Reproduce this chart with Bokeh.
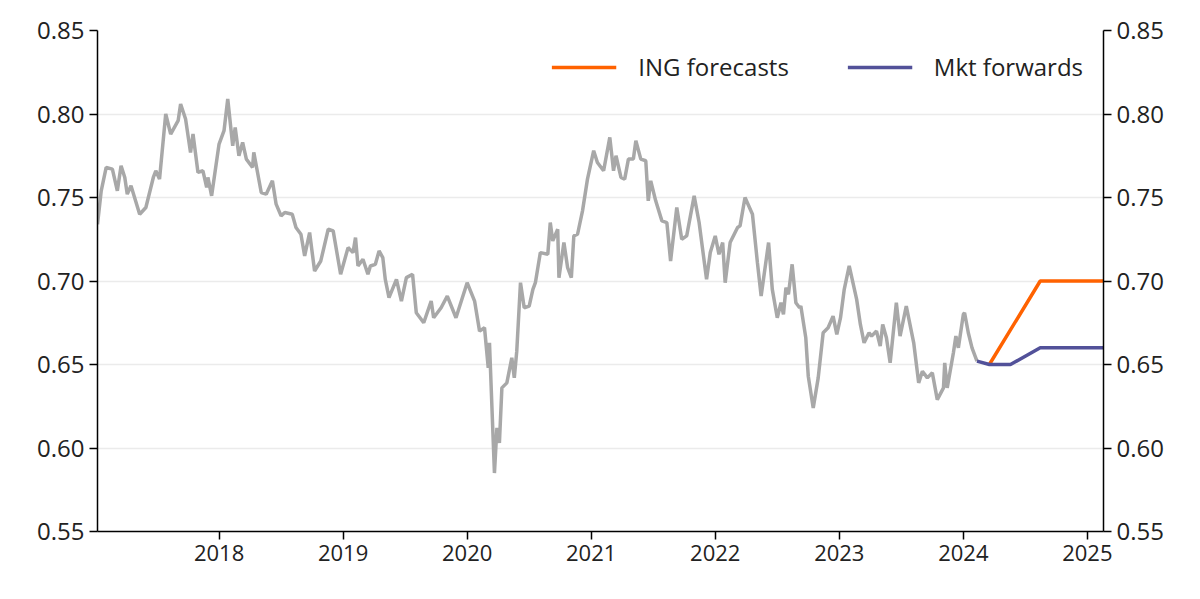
from bokeh.plotting import figure
from bokeh.models import Range1d, FixedTicker, LinearAxis, NumeralTickFormatter, Legend, LegendItem
from bokeh.embed import file_html
from bokeh.resources import INLINE

hist_x = [2017.02,2017.05,2017.09,2017.14,2017.18,2017.21,2017.24,2017.26,2017.29,2017.36,2017.41,2017.47,2017.49,2017.52,2017.57,2017.61,2017.67,2017.69,2017.73,2017.77,2017.79,2017.83,2017.87,2017.90,2017.91,2017.94,
 2018.00,2018.04,2018.07,2018.11,2018.13,2018.16,2018.19,2018.22,2018.27,2018.28,2018.34,2018.38,2018.43,2018.46,2018.50,2018.53,2018.59,2018.62,2018.66,2018.69,2018.73,2018.77,2018.82,2018.88,2018.92,2018.98,
 2019.04,2019.08,2019.10,2019.12,2019.16,2019.20,2019.22,2019.26,2019.29,2019.32,2019.34,2019.37,2019.43,2019.47,2019.51,2019.56,2019.59,2019.65,2019.71,2019.73,2019.79,2019.84,2019.91,
 2020.00,2020.06,2020.10,2020.14,2020.17,2020.18,2020.22,2020.24,2020.26,2020.28,2020.32,2020.36,2020.38,2020.40,2020.43,2020.46,2020.50,2020.53,2020.55,2020.59,2020.65,2020.67,2020.69,2020.73,2020.74,2020.78,2020.81,2020.84,2020.86,2020.89,2020.93,2020.97,
 2021.02,2021.05,2021.10,2021.15,2021.18,2021.20,2021.24,2021.27,2021.30,2021.34,2021.36,2021.40,2021.44,2021.46,2021.48,2021.52,2021.57,2021.61,2021.64,2021.69,2021.73,2021.77,2021.83,2021.87,2021.93,2021.96,
 2022.00,2022.03,2022.06,2022.08,2022.12,2022.18,2022.20,2022.24,2022.30,2022.34,2022.37,2022.43,2022.46,2022.50,2022.53,2022.55,2022.57,2022.59,2022.62,2022.65,2022.68,2022.69,2022.73,2022.75,2022.79,2022.83,2022.87,2022.91,2022.95,2022.98,
 2023.01,2023.04,2023.08,2023.14,2023.17,2023.20,2023.24,2023.26,2023.30,2023.33,2023.35,2023.38,2023.41,2023.46,2023.49,2023.54,2023.60,2023.64,2023.67,2023.71,2023.75,2023.79,2023.84,2023.85,2023.87,2023.92,2023.94,2023.96,
 2024.00,2024.01,2024.04,2024.07,2024.11]
hist_y = [0.734,0.754,0.768,0.767,0.754,0.769,0.762,0.752,0.757,0.740,0.744,0.762,0.766,0.761,0.800,0.788,0.796,0.806,0.797,0.777,0.788,0.765,0.766,0.756,0.762,0.751,
 0.782,0.790,0.809,0.781,0.792,0.775,0.783,0.773,0.768,0.777,0.753,0.752,0.760,0.746,0.739,0.741,0.740,0.732,0.728,0.715,0.729,0.706,0.712,0.731,0.730,0.704,
 0.720,0.717,0.726,0.709,0.713,0.704,0.709,0.710,0.718,0.714,0.701,0.690,0.701,0.688,0.702,0.704,0.681,0.675,0.688,0.678,0.684,0.691,0.678,
 0.699,0.688,0.670,0.672,0.648,0.663,0.585,0.612,0.603,0.636,0.639,0.654,0.642,0.658,0.699,0.684,0.685,0.695,0.699,0.717,0.716,0.735,0.724,0.731,0.702,0.723,0.708,0.702,0.727,0.728,0.742,0.761,
 0.778,0.771,0.766,0.786,0.766,0.775,0.762,0.761,0.773,0.773,0.784,0.773,0.772,0.748,0.760,0.748,0.736,0.735,0.712,0.744,0.725,0.727,0.751,0.735,0.701,0.717,
 0.727,0.716,0.723,0.699,0.723,0.732,0.733,0.750,0.740,0.711,0.691,0.723,0.695,0.678,0.687,0.680,0.696,0.692,0.710,0.687,0.684,0.685,0.666,0.643,0.624,0.642,0.669,0.672,0.679,0.668,
 0.678,0.695,0.709,0.689,0.674,0.663,0.669,0.667,0.670,0.661,0.674,0.666,0.651,0.687,0.667,0.685,0.663,0.639,0.646,0.642,0.645,0.629,0.636,0.651,0.636,0.657,0.667,0.660,
 0.680,0.681,0.669,0.660,0.652]

ing_x = [2024.21, 2024.62, 2025.13]
ing_y = [0.650, 0.700, 0.700]
mkt_x = [2024.11, 2024.21, 2024.38, 2024.62, 2025.13]
mkt_y = [0.652, 0.650, 0.650, 0.660, 0.660]

year_ticks = [2018, 2019, 2020, 2021, 2022, 2023, 2024, 2025]
y_ticks = [0.55, 0.60, 0.65, 0.70, 0.75, 0.80, 0.85]

FONT = "Open Sans"
p = figure(width=1184, height=583, output_backend="svg", toolbar_location=None,
           x_range=Range1d(2017.02, 2025.13), y_range=Range1d(0.55, 0.85),
           min_border_left=97, min_border_right=81, min_border_top=30, min_border_bottom=52)
p.outline_line_color = None
p.background_fill_color = "white"
p.xgrid.visible = False
p.ygrid.ticker = FixedTicker(ticks=y_ticks)
p.ygrid.grid_line_color = "#EBEBEB"
p.ygrid.grid_line_width = 1.5

p.xaxis.ticker = FixedTicker(ticks=year_ticks)
p.xaxis.major_label_overrides = {y: str(y) for y in year_ticks}
p.yaxis.ticker = FixedTicker(ticks=y_ticks)
p.yaxis.formatter = NumeralTickFormatter(format="0.00")

right = LinearAxis(ticker=FixedTicker(ticks=y_ticks), formatter=NumeralTickFormatter(format="0.00"))
p.add_layout(right, "right")

for ax in p.axis:
    ax.axis_line_color = "black"
    ax.axis_line_width = 1.5
    ax.major_tick_line_color = "black"
    ax.major_tick_line_width = 1.5
    ax.major_tick_out = 8
    ax.major_tick_in = 0
    ax.minor_tick_line_color = None
    ax.major_label_text_font = FONT
    ax.major_label_text_font_size = "24px"
    ax.major_label_text_color = "#222222"
p.xaxis.major_label_text_font_size = "22px"

p.line(hist_x, hist_y, line_color="#A8A8A8", line_width=3.5)
r_ing = p.line(ing_x, ing_y, line_color="#FF6200", line_width=3.5)
r_mkt = p.line(mkt_x, mkt_y, line_color="#525199", line_width=3.5)

legend = Legend(items=[LegendItem(label="ING forecasts", renderers=[r_ing]),
                       LegendItem(label="Mkt forwards", renderers=[r_mkt])],
                orientation="horizontal", location="top_right",
                label_text_font=FONT, label_text_font_size="24px", label_text_color="#222222",
                glyph_width=65, glyph_height=24, spacing=58, label_standoff=22,
                background_fill_alpha=0, border_line_color=None, margin=20, padding=8)
p.add_layout(legend)

open("out.html", "w").write(file_html(p, INLINE))
